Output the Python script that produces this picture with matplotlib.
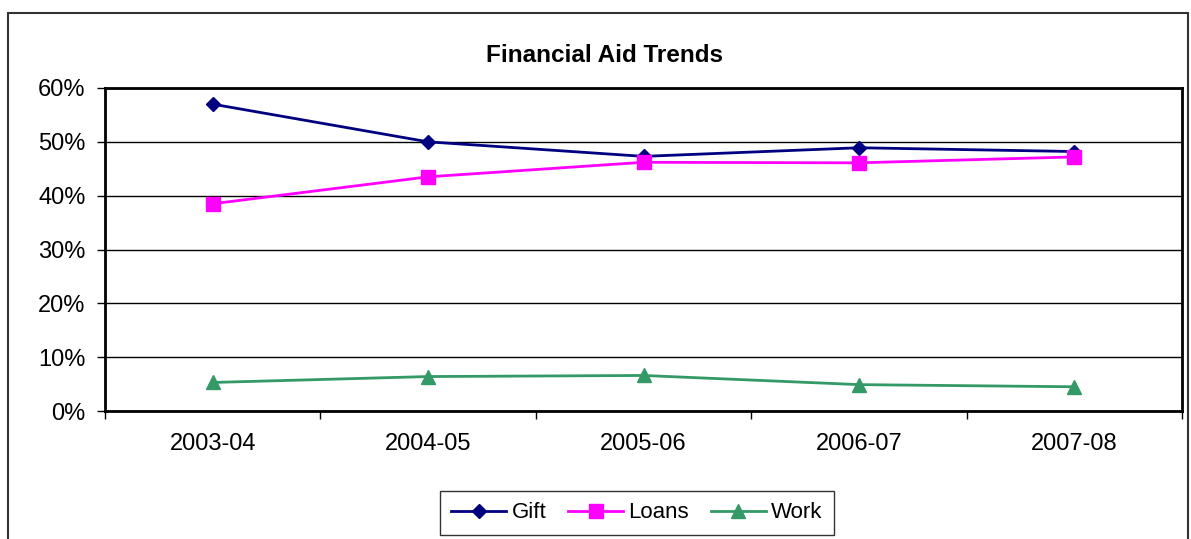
import matplotlib.pyplot as plt
import matplotlib as mpl
from matplotlib.patches import Rectangle
from matplotlib.ticker import FixedLocator, PercentFormatter

mpl.rcParams.update({
    "font.family": ["Liberation Sans", "DejaVu Sans"],
    "font.size": 17,
})

# ---------- Data ----------
years = ["2003-04", "2004-05", "2005-06", "2006-07", "2007-08"]
gift = [57.0, 50.0, 47.3, 48.9, 48.2]
loans = [38.5, 43.5, 46.2, 46.1, 47.2]
work = [5.3, 6.4, 6.6, 4.9, 4.5]

COLOR_GIFT = "#000080"
COLOR_LOANS = "#ff00ff"
COLOR_WORK = "#339966"

fig = plt.figure(figsize=(11.91, 5.39), dpi=100)
ax = fig.add_axes([105 / 1191, 1 - 411 / 539, (1182 - 105) / 1191, (411 - 88) / 539])

# outer chart border (bottom edge falls outside the image)
fig.patches.append(Rectangle((8 / 1191, -0.05), (1188 - 8) / 1191, 1.05 - 13 / 539,
                             transform=fig.transFigure, fill=False,
                             edgecolor="#333333", lw=1.5))

x = range(len(years))
ax.plot(x, gift, color=COLOR_GIFT, lw=2, marker="D", ms=7.5, label="Gift")
ax.plot(x, loans, color=COLOR_LOANS, lw=2, marker="s", ms=10.5, label="Loans")
ax.plot(x, work, color=COLOR_WORK, lw=2, marker="^", ms=10, label="Work")

ax.set_xlim(-0.5, len(years) - 0.5)
ax.set_ylim(0, 60)
ax.set_yticks(range(0, 61, 10))
ax.yaxis.set_major_formatter(PercentFormatter(decimals=0))
ax.set_xticks(list(x))
ax.set_xticklabels(years)
ax.xaxis.set_minor_locator(FixedLocator([i - 0.5 for i in range(len(years) + 1)]))
ax.tick_params(axis="x", which="major", length=0, pad=16)
ax.tick_params(axis="x", which="minor", length=6, width=1, direction="out")
ax.tick_params(axis="y", length=6, width=1, direction="out", pad=8)
ax.grid(axis="y", color="black", lw=1)
ax.set_axisbelow(True)
for s in ax.spines.values():
    s.set_linewidth(2)
    s.set_color("black")

fig.text(605 / 1191, 1 - 55 / 539, "Financial Aid Trends", ha="center", va="center",
         fontsize=17.5, fontweight="bold")

leg = fig.legend(loc="center", bbox_to_anchor=(637 / 1191, 1 - 513 / 539), ncol=3,
                 frameon=True, fancybox=False, edgecolor="black", handlelength=2.45,
                 columnspacing=1.0, handletextpad=0.25, borderpad=0.5, fontsize=16)
leg.get_frame().set_linewidth(1)

fig.savefig("out.png", dpi=100)
